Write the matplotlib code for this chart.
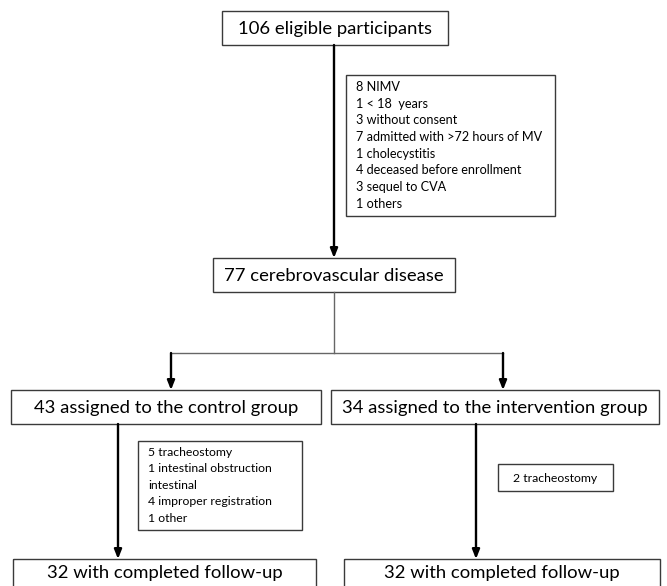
import matplotlib
matplotlib.use("Agg")
import matplotlib.pyplot as plt
from matplotlib.patches import Rectangle

plt.rcParams['font.family'] = ['Lato', 'DejaVu Sans']

# flowchart text
eligible = "106 eligible participants"
excluded = [
    "8 NIMV",
    "1 < 18  years",
    "3 without consent",
    "7 admitted with >72 hours of MV",
    "1 cholecystitis",
    "4 deceased before enrollment",
    "3 sequel to CVA",
    "1 others",
]
enrolled = "77 cerebrovascular disease"
groups = ["43 assigned to the control group", "34 assigned to the intervention group"]
lost_control = [
    "5 tracheostomy",
    "1 intestinal obstruction",
    "intestinal",
    "4 improper registration",
    "1 other",
]
lost_intervention = ["2 tracheostomy"]
completed = ["32 with completed follow-up", "32 with completed follow-up"]

W, H = 667, 586
fig = plt.figure(figsize=(W / 100, H / 100), dpi=100)
ax = fig.add_axes([0, 0, 1, 1])
ax.set_xlim(0, W)
ax.set_ylim(H, 0)
ax.axis("off")

EDGE = "#3a3a3a"
GREY = "#666666"


def box(x0, y0, x1, y1, label=None, size=13.3, ty=None):
    ax.add_patch(Rectangle((x0, y0), x1 - x0, y1 - y0, fill=False,
                           edgecolor=EDGE, linewidth=1.0, zorder=2))
    if label is not None:
        if ty is None:
            ty = (y0 + y1) / 2 + 1
        ax.text((x0 + x1) / 2, ty, label, ha="center",
                va="center", fontsize=size, color="black")


def list_box(x0, y0, x1, y1, lines, first, step, size=9.1):
    box(x0, y0, x1, y1)
    for i, s in enumerate(lines):
        ax.text(x0 + 10, first + i * step, s, ha="left", va="center",
                fontsize=size, color="black")


def arrow(x, y0, y1, lw=1.7):
    ax.annotate("", xy=(x, y1), xytext=(x, y0),
                arrowprops=dict(arrowstyle="-|>,head_width=0.22,head_length=0.55",
                                color="black", lw=lw, shrinkA=0, shrinkB=0))


# top part
box(222, 11, 448, 45, eligible)
arrow(334, 45, 258)
list_box(346, 75, 555, 216, excluded, 87, 16.7)
box(213, 258, 455, 292, enrolled)

# split
ax.plot([334, 334], [292, 353], color=GREY, lw=1.0)
ax.plot([171, 503], [353, 353], color=GREY, lw=1.0)
arrow(171, 353, 390)
arrow(503, 353, 390)

box(11, 390, 321, 424, groups[0])
box(331, 390, 659, 424, groups[1])

# follow-up
arrow(118, 424, 559)
arrow(476, 424, 559)
list_box(138, 441, 302, 530, lost_control, 452, 16.6, size=8.8)
box(498, 464, 613, 491, lost_intervention[0], size=8.8)

box(13, 559, 316, 600, completed[0], ty=573)
box(344, 559, 660, 600, completed[1], ty=573)

fig.savefig("out.png", dpi=100)
